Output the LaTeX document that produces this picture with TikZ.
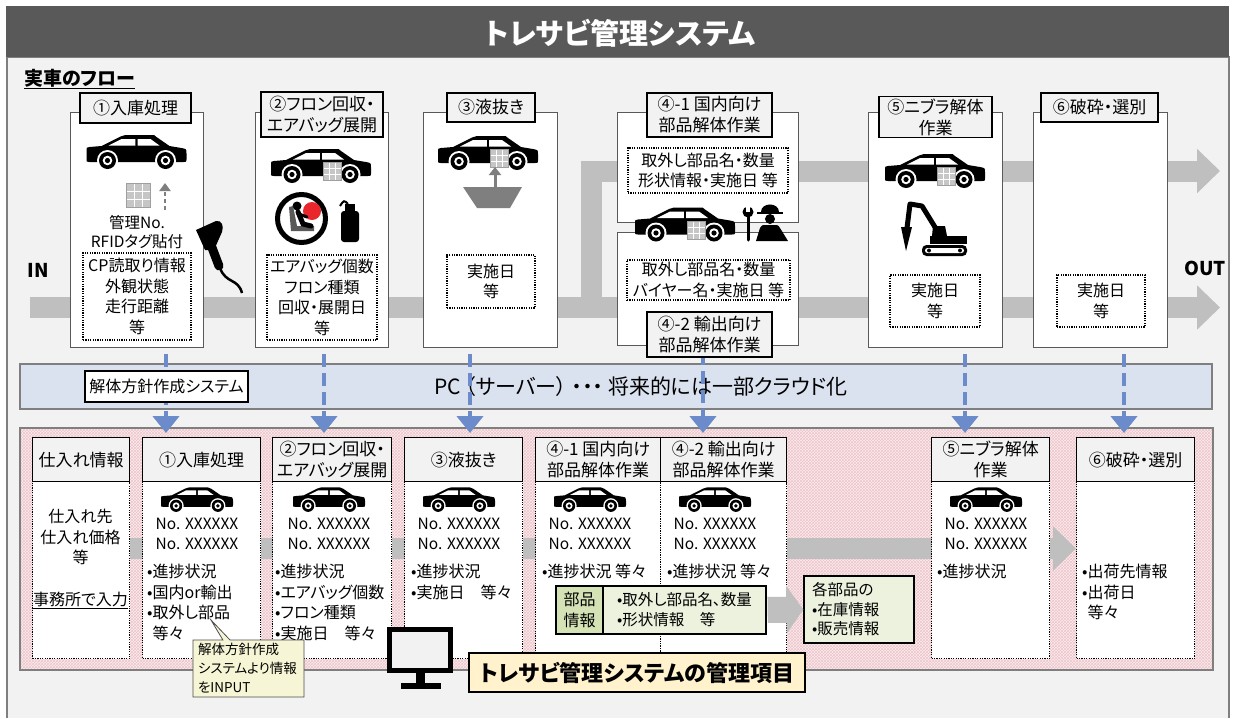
\documentclass[tikz,border=0pt]{standalone}
\usepackage{fontspec}
\setmainfont{Noto Sans CJK JP}[RawFeature={+palt}]
\usetikzlibrary{arrows.meta,patterns,shapes.callouts}

\definecolor{titlegray}{HTML}{595959}
\definecolor{pagegray}{HTML}{F2F2F2}
\definecolor{framegray}{HTML}{7F7F7F}
\definecolor{flowgray}{HTML}{BFBFBF}
\definecolor{pcblue}{HTML}{DAE1EF}
\definecolor{linkblue}{HTML}{6C8BCB}
\definecolor{panelpink}{HTML}{FBEBEE}
\definecolor{meshpink}{HTML}{EDC6CC}
\definecolor{partgreen}{HTML}{D4E2B6}
\definecolor{partpale}{HTML}{EDF2DF}
\definecolor{notecream}{HTML}{F6F6D6}
\definecolor{titlecream}{HTML}{FFF2CC}
\definecolor{alertred}{HTML}{E8262B}

\newcommand*\fs[2]{\fontsize{#1}{#2}\selectfont}

\tikzset{
  every node/.style={inner sep=0pt, font=\fs{16}{20.5}},
  flowbox/.style={draw=titlegray, line width=1.3pt, fill=white, anchor=north west},
  steplabel/.style={draw=black, line width=1.3pt, fill=pagegray, align=center, font=\fs{17}{21}},
  infobox/.style={draw=black, line width=1.1pt, dash pattern=on 1.2pt off 1.2pt, fill=white, align=center},
  band/.style={draw=flowgray, line width=21pt, -{Triangle[width=43pt,length=23pt]}},
  pcline/.style={draw=linkblue, line width=4.5pt, dash pattern=on 13pt off 6pt,
    -{Triangle[width=26pt,length=17pt]}, shorten <=6pt, shorten >=4pt},
  headbox/.style={draw=black, line width=1.4pt, fill=pagegray, align=center, anchor=north west,
    minimum height=44pt, font=\fs{17}{21}},
  colbody/.style={infobox, anchor=north west, minimum height=177pt},
  bullets/.style={align=left, anchor=north west},
  % sedan seen from the side, 100 wide
  car/.pic={
    \fill (-50,-3) .. controls (-50,-5) .. (-47,-5.5) -- (-35,-6.5) -- (-16,-16)
      .. controls (-14,-17.5) .. (-11,-17.5) -- (15,-17.5) .. controls (18,-17.5) .. (20,-15.5)
      -- (33,-6.5) -- (45,-4.5) .. controls (50,-3.5) .. (50,1) -- (50,7)
      .. controls (50,9.5) .. (47,9.5) -- (-47,9.5) .. controls (-50,9.5) .. (-50,6) -- cycle;
    \fill[white] (-28,-7) -- (-15,-13.5) -- (-1.2,-13.5) -- (-1.2,-7) -- cycle
      (1.2,-13.5) -- (14,-13.5) -- (23,-7) -- (1.2,-7) -- cycle;
    \foreach \w in {-29,29} {
      \fill[white] (\w,8) circle (10.5);
      \fill (\w,8) circle (8.5);
      \fill[white] (\w,8) circle (4.8);
      \fill (\w,8) circle (2.6);
    }
  },
  % rfid tag
  tag/.pic={
    \fill[gray!45] (-9,-9) rectangle (9,9);
    \draw[white, line width=0.9pt] (-3,-9) -- (-3,9) (3,-9) -- (3,9) (-9,-3) -- (9,-3) (-9,3) -- (9,3);
    \draw[gray!75, line width=0.6pt] (-9,-9) rectangle (9,9);
  }
}

\begin{document}
\begin{tikzpicture}[x=1pt,y=-1pt]
\useasboundingbox (0,0) rectangle (1233,718);
\fill[white] (0,0) rectangle (1233,718);
\fill[pagegray] (7,57) rectangle (1229,718);
\draw[framegray, line width=1.2pt] (7,718) -- (7,57) -- (1229,57) -- (1229,718);
\fill[titlegray] (6,6) rectangle (1229,57);
\node[font=\bfseries\fs{29}{32}, text=white] (title) at (620,33) {トレサビ管理システム};
\node[anchor=west, font=\bfseries\fs{19}{22}] (flowhead) at (24,79) {\underline{実車のフロー}};

% car flow
\draw[band] (30,307.5) -- (1220,307.5);
\draw[band] (591,307.5) -- (591,171) -- (1220,171);
\node[font=\bfseries\fs{19}{22}] (in) at (38,270) {IN};
\node[font=\bfseries\fs{19}{22}] (out) at (1205,268) {OUT};

\foreach \n/\x/\y/\w/\h in {1/70/112/133/235, 2/255/112/133/235, 3/423/112/134/235,
    41/617/112/181/110, 42/617/232/181/113, 5/868/112/134/235, 6/1033/112/134/235}
  \node[flowbox, minimum width=\w pt, minimum height=\h pt] (box\n) at (\x,\y) {};

% 1: tag on arrival
\pic at (136.5,152.5) {car};
\pic[scale=1.33] at (138.5,195) {tag};
\draw[framegray, line width=2.5pt, dash pattern=on 4pt off 3pt, -{Triangle[width=11pt,length=8pt]}] (165,210) -- (165,183);
\node[align=center, font=\fs{15.5}{19}] (tagtext) at (137,232) {管理No.\\RFIDタグ貼付};
\node[infobox, minimum width=108pt, minimum height=87pt] (info1) at (137,296.5) {CP読取り情報\\外観状態\\走行距離\\等};
\fill (196,230) -- (216,221) .. controls (222,220) and (224,226) .. (222,232) -- (214,250) -- (205,250) -- cycle;
\draw[line width=9pt, line cap=round] (211,245) -- (219,266);
\draw[line width=2.5pt] (220,268) .. controls (226,284) and (238,278) .. (242,293);

% 2: airbag and freon
\pic at (321,166.5) {car};
\pic at (332,171.5) {tag};
\draw[line width=5pt] (301.5,218.5) circle (24);
\fill[alertred] (312,211) circle (9);
\fill (297,206) circle (4.5);
\fill[gray!70!black] (289,207) -- (293,206) -- (297,226) -- (314,226) -- (314,231) -- (291,231) -- cycle;
\draw[line width=5pt, line cap=round] (298,212) -- (303,224) -- (311,226);
\draw[line width=3pt, line cap=round] (299,214) -- (307,217);
\fill[rounded corners=3pt] (341,211) rectangle (359,242);
\fill (345,204) rectangle (355,212);
\draw[line width=2pt] (348,204) .. controls (344,200) .. (340,206);
\node[infobox, minimum width=110pt, minimum height=85pt] (info2) at (322,297.5) {エアバッグ個数\\フロン種類\\回収・展開日\\等};

% 3: draining
\pic at (488,153.5) {car};
\pic at (499,158.5) {tag};
\fill[framegray] (463,187) -- (522,187) -- (510,208) -- (477,208) -- cycle;
\draw[framegray, line width=3pt, -{Triangle[width=12pt,length=8pt]}] (495,187) -- (495,167);
\node[infobox, minimum width=88pt, minimum height=53pt] (info3) at (491,281.5) {実施日\\等};

% 4: parts removal
\node[infobox, minimum width=160pt, minimum height=45pt] (info41) at (708,170.5) {取外し部品名・数量\\形状情報・実施日 等};
\node[infobox, minimum width=163pt, minimum height=40pt] (info42) at (708.5,280) {取外し部品名・数量\\バイヤー名・実施日 等};
\pic at (685,225) {car};
\pic at (696,230) {tag};
\draw[line width=3pt, line cap=round] (748,240) -- (748,216);
\fill (748,212) circle (5.5);
\fill[white] (746.3,205) rectangle (749.7,212);
\fill (761,212) .. controls (761,202) and (779,202) .. (779,212) -- cycle;
\draw[line width=2pt] (757,213) -- (783,213);
\fill (770,219) circle (5);
\fill (756,241) -- (760,228) .. controls (762,225) .. (766,225) -- (774,225)
  .. controls (778,225) .. (780,228) -- (788,241) -- cycle;

% 5: nibbler
\pic at (935,171.5) {car};
\pic at (946,176.5) {tag};
\fill[rounded corners=4.5pt] (922,245) rectangle (967,256);
\fill[white, rounded corners=2.5pt] (925,248) rectangle (964,253);
\fill (929,250.5) circle (2) (960,250.5) circle (2);
\fill (930,244) rectangle (967,236);
\fill (932,236) -- (933,226) -- (945,226) -- (947,236) -- cycle;
\draw[line width=5pt, line join=round] (938,232) -- (922,206) -- (910,204) -- (907,228);
\fill (901,227) -- (912,227) -- (906,251) -- cycle;
\node[infobox, minimum width=90pt, minimum height=52pt] (info5) at (935,301) {実施日\\等};

% 6: shredding
\node[infobox, minimum width=88pt, minimum height=52pt] (info6) at (1101,301) {実施日\\等};

% managed items
\fill[panelpink] (20,428) rectangle (1213,670);
\fill[pattern=crosshatch, pattern color=meshpink] (20,428) rectangle (1213,670);
\draw[framegray, line width=1.4pt] (20,428) rectangle (1213,670);
\draw[band] (124,548.5) -- (1076,548.5);

\foreach \n/\x/\w in {0/32/97, 1/142/118, 2/272/119, 3/404/118, 4/535/125, 5/660/126, 6/931/118, 7/1076/118}
  \node[colbody, minimum width=\w pt] (col\n) at (\x,481) {};
\foreach \n/\x/\w/\t in {0/32/97/仕入れ情報, 1/142/118/①入庫処理, 2/272/119/{②フロン回収・\\エアバッグ展開},
    3/404/118/③液抜き, 4/535/125/{④-1 国内向け\\部品解体作業}, 5/660/126/{④-2 輸出向け\\部品解体作業},
    6/931/118/{⑤ニブラ解体\\作業}, 7/1076/118/⑥破砕・選別}
  \node[headbox, minimum width=\w pt] (head\n) at (\x,437) {\t};

\node[align=center] (supply) at (80.5,537) {仕入れ先\\仕入れ価格\\等};
\node (office) at (80.5,600) {\underline{事務所で入力}};
\foreach \x in {197,329,459,590,715,986} {
  \pic[scale=0.72] at (\x,500) {car};
  \node[align=center, font=\fs{15.5}{19.5}] (num\x) at (\x,534) {No. XXXXXX\\No. XXXXXX};
}
\node[bullets] (list1) at (147,564) {•進捗状況\\•国内or輸出\\•取外し部品\\\phantom{•}等々};
\node[bullets] (list2) at (275,564) {•進捗状況\\•エアバッグ個数\\•フロン種類\\•実施日　等々};
\node[bullets] (list3) at (411,564) {•進捗状況\\•実施日　等々};
\node[bullets] (list4) at (542,564) {•進捗状況 等々};
\node[bullets] (list5) at (667,564) {•進捗状況 等々};
\node[bullets] (list6) at (937,564) {•進捗状況};
\node[bullets] (list7) at (1082,564) {•出荷先情報\\•出荷日\\\phantom{•}等々};

\node[draw=black, line width=1.3pt, fill=partpale, minimum width=163pt, minimum height=48pt,
  align=left, font=\fs{15.5}{20}] (partval) at (684.5,610) {•取外し部品名、数量\\•形状情報　等};
\node[draw=black, line width=1.3pt, fill=partgreen, minimum width=47pt, minimum height=48pt,
  align=center] (partkey) at (579.5,610) {部品\\情報};
\node[draw=black, line width=1.3pt, fill=partpale, minimum width=110pt, minimum height=67pt,
  text width=94pt, align=left, font=\fs{15.5}{19.5}] (stock) at (859,609.5) {各部品の\\•在庫情報\\•販売情報};
\draw[flowgray, line width=26pt, shorten <=1pt, -{Triangle[width=47pt,length=17pt]}] (partval.east) -- (stock.west);

\node[rectangle callout, callout absolute pointer={(211,620)}, draw=black!70, line width=0.8pt,
  fill=notecream, minimum width=111pt, minimum height=57pt, text width=101pt, align=left,
  font=\fs{13.5}{19}] (note) at (248.5,668.5) {解体方針作成\\システムより情報\\をINPUT};

% monitor
\draw[line width=5pt, fill=pagegray] (389.5,629.5) rectangle (450.5,670.5);
\fill (416,671) rectangle (425,684);
\fill (401,683) rectangle (441,689);
\node[draw=black, line width=1.4pt, fill=titlecream, minimum width=336pt, minimum height=39pt,
  font=\bfseries\fs{22}{24}] (mgmt) at (637,672.5) {トレサビ管理システムの管理項目};

% server bar and data links
\node[draw=framegray, line width=1.3pt, fill=pcblue, minimum width=1192pt, minimum height=45pt] (pc) at (616,386.5) {};
\node[font=\fs{21}{24}] (pctext) at (641,387) {PC （サーバー） ・・・ 将来的には一部クラウド化};
\foreach \x/\a/\b in {166/box1/head1, 324/box2/head2, 470/box3/head3, 703/box42/head5, 965/box5/head6, 1124/box6/head7}
  \draw[pcline] (\a.south -| \x,0) -- (\b.north -| \x,0);
\node[draw=black, line width=1.2pt, fill=white, minimum width=163pt, minimum height=31pt] (policy) at (166.5,386.5) {解体方針作成システム};

% step labels
\node[steplabel, minimum width=111pt, minimum height=30pt] (lab1) at (135.5,108) {①入庫処理};
\node[steplabel, minimum width=122pt, minimum height=45pt] (lab2) at (322,114.5) {②フロン回収・\\エアバッグ展開};
\node[steplabel, minimum width=88pt, minimum height=29pt] (lab3) at (491,107.5) {③液抜き};
\node[steplabel, minimum width=125pt, minimum height=44pt] (lab41) at (709.5,115) {④-1 国内向け\\部品解体作業};
\node[steplabel, minimum width=125pt, minimum height=45pt] (lab42) at (709.5,334.5) {④-2 輸出向け\\部品解体作業};
\node[steplabel, minimum width=113pt, minimum height=41pt] (lab5) at (935.5,117) {⑤ニブラ解体\\作業};
\node[steplabel, minimum width=117pt, minimum height=29pt] (lab6) at (1099.5,107.5) {⑥破砕・選別};
\end{tikzpicture}
\end{document}
